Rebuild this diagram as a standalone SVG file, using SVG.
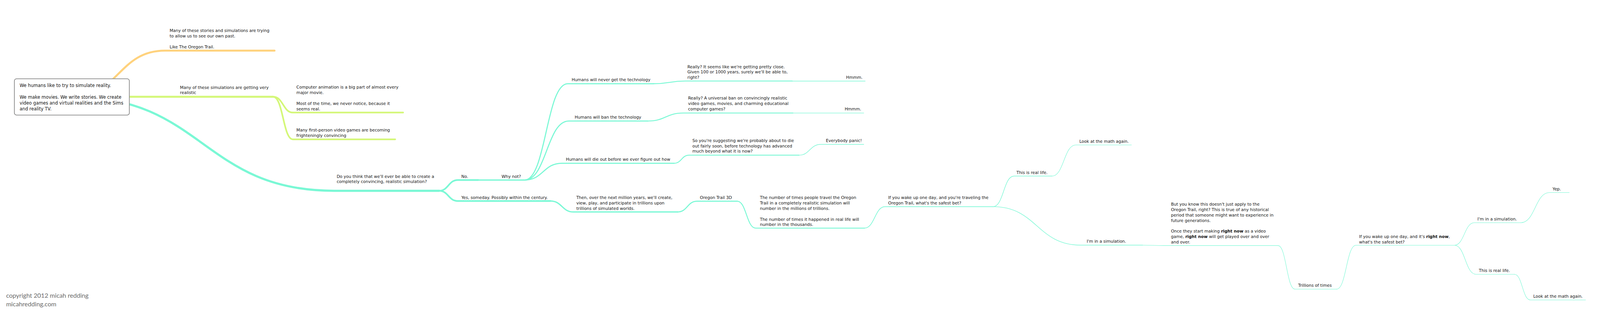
<svg xmlns="http://www.w3.org/2000/svg" width="4453" height="838" viewBox="0 0 4453 838">
<style>
svg:root{width:100vw;height:100vh}
.t{font-family:"DejaVu Sans","Liberation Sans",sans-serif;font-size:11.5px;fill:#111}
.r{font-family:"DejaVu Sans","Liberation Sans",sans-serif;font-size:12.4px;fill:#111}
.b{font-weight:bold}
.c{fill:none;stroke-linecap:round;stroke-linejoin:round}
.tl{stroke:#7af8d5}
.or{stroke:#ffd27d}
.gr{stroke:#d4f778}
.cr{font-family:Lato,"Open Sans",sans-serif;font-size:17.5px;fill:#6a6a6a}
</style>
<rect width="4453" height="838" fill="#fff"/>
<g id="connectors">
<path class="c or" stroke-width="5.5" d="M200,233 C330,233 330,104.5 459,104.5 H764"/>
<path class="c gr" stroke-width="5.5" d="M200,233 H760"/>
<path class="c gr" stroke-width="4.5" d="M760,233 C788,233 788,277 815,277 H1122"/>
<path class="c gr" stroke-width="4.5" d="M760,233 C788,233 788,351.7 815,351.7 H1100"/>
<path class="c tl" stroke-width="6" d="M200,233 C565,233 565,495 930,495 H1222"/>
<path class="c tl" stroke-width="4.5" d="M1222,495 C1248,495 1248,465 1274,465 H1331"/>
<path class="c tl" stroke-width="3.5" d="M1331,465 H1460"/>
<path class="c tl" stroke-width="4.5" d="M1222,495 C1248,495 1248,523.5 1274,523.5 H1532"/>
<path class="c tl" stroke-width="3" d="M1460,465 C1520,465 1520,196.7 1580,196.7 H1819"/>
<path class="c tl" stroke-width="3" d="M1460,465 C1521,465 1522,300.7 1583,300.7 H1803"/>
<path class="c tl" stroke-width="3" d="M1460,465 C1512,465 1512,418.3 1564,418.3 H1876"/>
<path class="c tl" stroke-width="2.5" d="M1819,196.7 C1863,196.7 1864,189.3 1908,189.3 H2205"/>
<path class="c tl" stroke-width="1.5" d="M2205,189.3 H2408"/>
<path class="c tl" stroke-width="2.5" d="M1803,300.7 C1852,300.7 1853,278.3 1902,278.3 H2207"/>
<path class="c tl" stroke-width="1.5" d="M2207,278.3 H2404"/>
<path class="c tl" stroke-width="2.5" d="M1876,418.3 C1897,418.3 1897,395.7 1918,395.7 H2224"/>
<path class="c tl" stroke-width="1.5" d="M2224,395.7 C2254,395.7 2254,365.7 2284.5,365.7 H2404"/>
<path class="c tl" stroke-width="3.5" d="M1532,523.5 C1564,523.5 1564,554 1596,554 H1886"/>
<path class="c tl" stroke-width="3" d="M1886,554 C1913,554 1913,524 1940,524 H2052"/>
<path class="c tl" stroke-width="2.5" d="M2052,524 C2077,524 2078,599 2103,599 H2406"/>
<path class="c tl" stroke-width="1.8" d="M2406,599 C2434,599 2435,539.3 2463,539.3 H2764"/>
<path class="c tl" stroke-width="1.5" d="M2764,539.3 C2793,539.3 2793,454 2822,454 H2928"/>
<path class="c tl" stroke-width="1.2" d="M2928,454 C2961,454 2961,367.3 2994,367.3 H3149"/>
<path class="c tl" stroke-width="1.5" d="M2764,539.3 C2886,539.3 2886,646.5 3008,646.5 H3180"/>
<path class="c tl" stroke-width="1.2" d="M3180,646.5 C3210,646.5 3210,647.7 3240,647.7 H3557"/>
<path class="c tl" stroke-width="1.2" d="M3557,647.7 C3580,647.7 3581,769 3604,769 H3720"/>
<path class="c tl" stroke-width="1.2" d="M3720,769 C3747,769 3747,646.7 3774,646.7 H4048"/>
<path class="c tl" stroke-width="1.2" d="M4048,646.7 C4075,646.7 4076,584 4103,584 H4233"/>
<path class="c tl" stroke-width="1.2" d="M4233,584 C4272,584 4273,500 4312,500 H4367.5"/>
<path class="c tl" stroke-width="1.2" d="M4048,646.7 C4078,646.7 4078,727.7 4108,727.7 H4215"/>
<path class="c tl" stroke-width="1.2" d="M4215,727.7 C4237,727.7 4237,799.3 4259.5,799.3 H4413"/>
</g>
<g id="root">
<rect x="40" y="183" width="320" height="101" rx="6" fill="#fff" stroke="#8c8c8c" stroke-width="2"/>
<text class="r" x="54.6" y="206">We humans like to try to simulate reality.</text>
<text class="r" x="54.6" y="238.4">We make movies. We write stories. We create</text>
<text class="r" x="54.6" y="254.6">video games and virtual realities and the Sims</text>
<text class="r" x="54.6" y="270.8">and reality TV.</text>
</g>
<g id="n-past">
<text class="t" x="472" y="53">Many of these stories and simulations are trying</text>
<text class="t" x="472" y="68">to allow us to see our own past.</text>
<text class="t" x="472" y="98.5">Like The Oregon Trail.</text>
</g>
<g id="n-realistic">
<text class="t" x="501" y="211">Many of these simulations are getting very</text>
<text class="t" x="501" y="226">realistic</text>
</g>
<g id="n-animation">
<text class="t" x="825" y="210.7">Computer animation is a big part of almost every</text>
<text class="t" x="825" y="225.7">major movie.</text>
<text class="t" x="825" y="255.7">Most of the time, we never notice, because it</text>
<text class="t" x="825" y="270.7">seems real.</text>
</g>
<g id="n-fps">
<text class="t" x="825" y="330">Many first-person video games are becoming</text>
<text class="t" x="825" y="345">frighteningly convincing</text>
</g>
<g id="n-question">
<text class="t" x="937" y="458.7">Do you think that we'll ever be able to create a</text>
<text class="t" x="937" y="473.7">completely convincing, realistic simulation?</text>
</g>
<g id="n-no"><text class="t" x="1284" y="458.7">No.</text></g>
<g id="n-whynot"><text class="t" x="1396" y="458.7">Why not?</text></g>
<g id="n-never"><text class="t" x="1591" y="190">Humans will never get the technology</text></g>
<g id="n-close">
<text class="t" x="1913" y="153.3">Really? It seems like we're getting pretty close.</text>
<text class="t" x="1913" y="168.3">Given 100 or 1000 years, surely we'll be able to,</text>
<text class="t" x="1913" y="183.3">right?</text>
</g>
<g id="n-hmmm1"><text class="t" x="2400.6" y="183.5" text-anchor="end">Hmmm.</text></g>
<g id="n-ban"><text class="t" x="1599.5" y="294">Humans will ban the technology</text></g>
<g id="n-universal">
<text class="t" x="1915" y="240.7">Really? A universal ban on convincingly realistic</text>
<text class="t" x="1915" y="255.7">video games, movies, and charming educational</text>
<text class="t" x="1915" y="270.7">computer games?</text>
</g>
<g id="n-hmmm2"><text class="t" x="2396.7" y="270.7" text-anchor="end">Hmmm.</text></g>
<g id="n-dieout"><text class="t" x="1575" y="411.7">Humans will die out before we ever figure out how</text></g>
<g id="n-suggesting">
<text class="t" x="1927" y="359">So you're suggesting we're probably about to die</text>
<text class="t" x="1927" y="374">out fairly soon, before technology has advanced</text>
<text class="t" x="1927" y="389">much beyond what it is now?</text>
</g>
<g id="n-panic"><text class="t" x="2298.5" y="359">Everybody panic!</text></g>
<g id="n-yes"><text class="t" x="1284" y="517.7">Yes, someday. Possibly within the century.</text></g>
<g id="n-million">
<text class="t" x="1604" y="518.3">Then, over the next million years, we'll create,</text>
<text class="t" x="1604" y="533.3">view, play, and participate in trillions upon</text>
<text class="t" x="1604" y="548.3">trillions of simulated worlds.</text>
</g>
<g id="n-ot3d"><text class="t" x="1948" y="518.3">Oregon Trail 3D</text></g>
<g id="n-number">
<text class="t" x="2115" y="518.3">The number of times people travel the Oregon</text>
<text class="t" x="2115" y="533.3">Trail in a completely realistic simulation will</text>
<text class="t" x="2115" y="548.3">number in the millions of trillions.</text>
<text class="t" x="2115" y="578.3">The number of times it happened in real life will</text>
<text class="t" x="2115" y="593.3">number in the thousands.</text>
</g>
<g id="n-wake1">
<text class="t" x="2472" y="518.3">If you wake up one day, and you're traveling the</text>
<text class="t" x="2472" y="533.3">Oregon Trail, what's the safest bet?</text>
</g>
<g id="n-reallife1"><text class="t" x="2829" y="448.3">This is real life.</text></g>
<g id="n-math1"><text class="t" x="3004" y="361.7">Look at the math again.</text></g>
<g id="n-sim1"><text class="t" x="3024.5" y="640">I'm in a simulation.</text></g>
<g id="n-butyou">
<text class="t" x="3259" y="536.7">But you know this doesn't just apply to the</text>
<text class="t" x="3259" y="551.7">Oregon Trail, right? This is true of any historical</text>
<text class="t" x="3259" y="566.7">period that someone might want to experience in</text>
<text class="t" x="3259" y="581.7">future generations.</text>
<text class="t" x="3259" y="611.7">Once they start making <tspan class="b">right now</tspan> as a video</text>
<text class="t" x="3259" y="626.7">game, <tspan class="b">right now</tspan> will get played over and over</text>
<text class="t" x="3259" y="641.7">and over.</text>
</g>
<g id="n-trillions"><text class="t" x="3613" y="762.7">Trillions of times</text></g>
<g id="n-wake2">
<text class="t" x="3782.6" y="626.7">If you wake up one day, and it's <tspan class="b">right now</tspan>,</text>
<text class="t" x="3782.6" y="641.5">what's the safest bet?</text>
</g>
<g id="n-sim2"><text class="t" x="4112" y="577.7">I'm in a simulation.</text></g>
<g id="n-yep"><text class="t" x="4321" y="494.3">Yep.</text></g>
<g id="n-reallife2"><text class="t" x="4116" y="721.7">This is real life.</text></g>
<g id="n-math2"><text class="t" x="4267.5" y="793.3">Look at the math again.</text></g>
<g id="credit">
<text class="cr" x="17" y="793">copyright 2012 micah redding</text>
<text class="cr" x="17" y="817">micahredding.com</text>
</g>
</svg>
